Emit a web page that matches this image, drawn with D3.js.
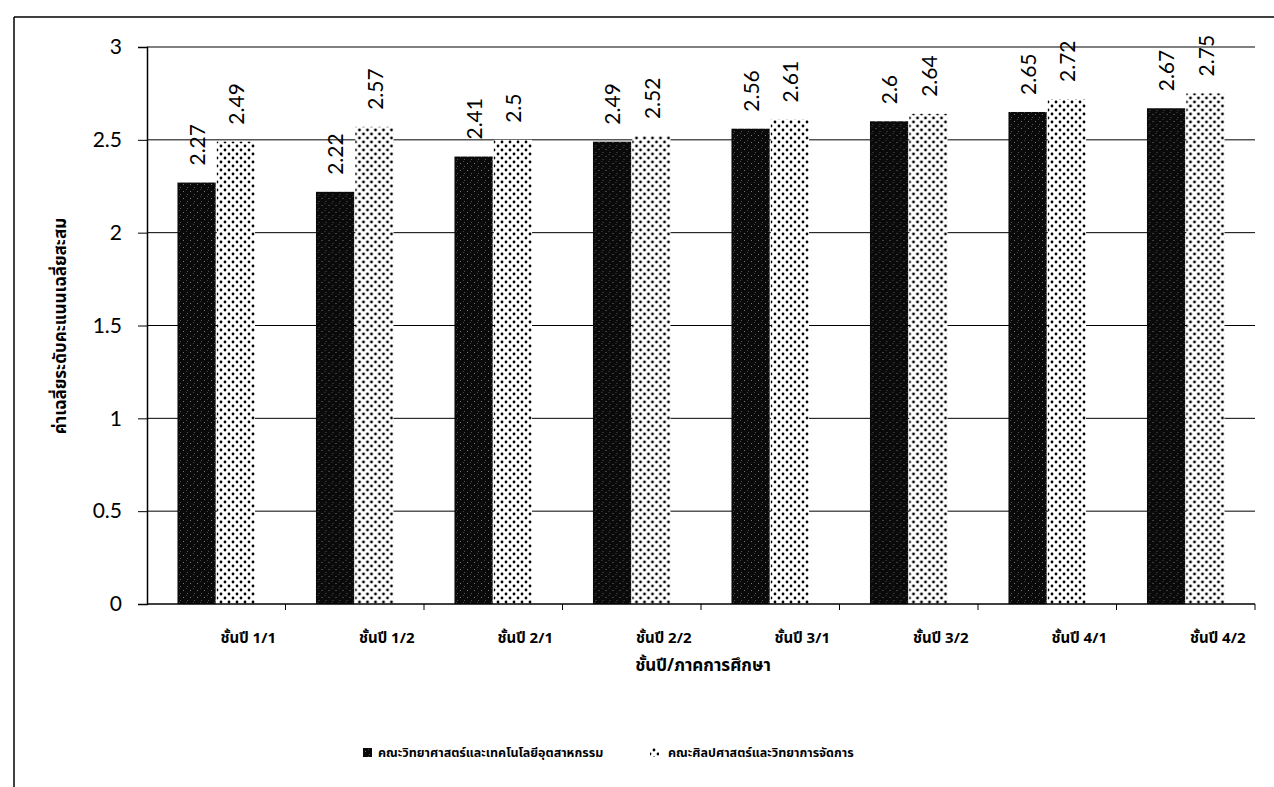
<!DOCTYPE html>
<html>
<head>
<meta charset="utf-8">
<script src="https://cdn.jsdelivr.net/npm/d3@7"></script>
<style>
  body { margin: 0; background: #fff; }
  svg { display: block; }
</style>
</head>
<body>
<script>
var w = 1274;
var h = 787;

// data
var categories = ['ชั้นปี 1/1', 'ชั้นปี 1/2', 'ชั้นปี 2/1', 'ชั้นปี 2/2', 'ชั้นปี 3/1', 'ชั้นปี 3/2', 'ชั้นปี 4/1', 'ชั้นปี 4/2'];
var seriesNames = ['คณะวิทยาศาสตร์และเทคโนโลยีอุตสาหกรรม', 'คณะศิลปศาสตร์และวิทยาการจัดการ'];
var sciValues = [2.27, 2.22, 2.41, 2.49, 2.56, 2.6, 2.65, 2.67];
var artsValues = [2.49, 2.57, 2.5, 2.52, 2.61, 2.64, 2.72, 2.75];
var yTicks = [0, 0.5, 1, 1.5, 2, 2.5, 3];
var yTitle = 'ค่าเฉลี่ยระดับคะแนนเฉลี่ยสะสม';
var xTitle = 'ชั้นปี/ภาคการศึกษา';

var thaiFont = '"Noto Sans Thai", Tahoma, "DejaVu Sans", sans-serif';
var numFont = 'Lato, "Open Sans", sans-serif';

var svg = d3.select('body')
           .append('svg')
           .attr('width', w)
           .attr('height', h);

// fills: grainy black and dotted white
var defs = svg.append('defs');
var dark = defs.append('pattern')
    .attr('id', 'dark')
    .attr('patternUnits', 'userSpaceOnUse')
    .attr('width', 7).attr('height', 7);
dark.append('rect').attr('width', 7).attr('height', 7).attr('fill', '#0a0a0a');
dark.append('rect').attr('x', 1).attr('y', 2).attr('width', 1).attr('height', 1).attr('fill', '#777');
dark.append('rect').attr('x', 5).attr('y', 5).attr('width', 1).attr('height', 1).attr('fill', '#555');
dark.append('rect').attr('x', 4).attr('y', 0).attr('width', 1).attr('height', 1).attr('fill', '#444');

var dots = defs.append('pattern')
    .attr('id', 'dots')
    .attr('patternUnits', 'userSpaceOnUse')
    .attr('width', 8).attr('height', 8);
dots.append('rect').attr('width', 8).attr('height', 8).attr('fill', '#fff');
dots.append('circle').attr('cx', 2).attr('cy', 2).attr('r', 1.4).attr('fill', '#000');
dots.append('circle').attr('cx', 6).attr('cy', 6).attr('r', 1.4).attr('fill', '#000');

// frame (left and top edge of the scanned box)
svg.append('line').attr('x1', 14).attr('y1', 17).attr('x2', 14).attr('y2', h)
   .attr('stroke', '#000').attr('stroke-width', 1.5);
svg.append('line').attr('x1', 14).attr('y1', 17).attr('x2', w).attr('y2', 17)
   .attr('stroke', '#000').attr('stroke-width', 1.5);

var x = d3.scaleBand()
    .domain(categories)
    .range([147, 1255]);

var x1 = d3.scaleBand()
    .domain(seriesNames)
    .range([x.bandwidth() * 0.22, x.bandwidth() * 0.78])
    .paddingInner(0.03);

var y = d3.scaleLinear()
    .domain([0, 3])
    .range([604, 47]);

// gridlines
svg.append('g')
   .selectAll('line')
   .data(yTicks.slice(1))
   .enter()
   .append('line')
   .attr('x1', x.range()[0])
   .attr('x2', x.range()[1])
   .attr('y1', function(d) { return y(d); })
   .attr('y2', function(d) { return y(d); })
   .attr('stroke', '#000')
   .attr('stroke-width', 1);

// y axis
var yAxis = svg.append('g')
    .attr('transform', 'translate(147,0)')
    .call(d3.axisLeft(y).tickValues(yTicks).tickFormat(function(d) { return d; }).tickSize(9).tickPadding(16));
yAxis.selectAll('text')
     .attr('font-family', numFont)
     .attr('font-size', 21)
     .attr('fill', '#000');
yAxis.select('.domain').attr('stroke', '#000').attr('stroke-width', 1.5);
yAxis.selectAll('.tick line').attr('stroke', '#000');

// bars
var rows = categories.map(function(c, i) {
  return { cat: c, values: [
    { name: seriesNames[0], v: sciValues[i], fill: 'url(#dark)' },
    { name: seriesNames[1], v: artsValues[i], fill: 'url(#dots)' }
  ] };
});

var groups = svg.append('g')
    .selectAll('g')
    .data(rows)
    .enter()
    .append('g')
    .attr('transform', function(d) { return 'translate(' + x(d.cat) + ',0)'; });

groups.selectAll('rect')
      .data(function(d) { return d.values; })
      .enter()
      .append('rect')
      .attr('x', function(d) { return x1(d.name); })
      .attr('width', x1.bandwidth())
      .attr('y', function(d) { return y(d.v); })
      .attr('height', function(d) { return y(0) - y(d.v); })
      .attr('fill', function(d) { return d.fill; });

// rotated value labels
groups.selectAll('text')
      .data(function(d) { return d.values; })
      .enter()
      .append('text')
      .attr('transform', function(d) {
        return 'translate(' + (x1(d.name) + x1.bandwidth() / 2 + 1) + ',' + (y(d.v) - 17) + ') rotate(-90)';
      })
      .attr('dy', '0.35em')
      .attr('text-anchor', 'start')
      .attr('font-family', numFont)
      .attr('font-size', 21)
      .text(function(d) { return d.v; });

// x axis line with ticks at category boundaries
svg.append('line')
   .attr('x1', x.range()[0]).attr('x2', x.range()[1])
   .attr('y1', y(0)).attr('y2', y(0))
   .attr('stroke', '#000').attr('stroke-width', 1.5);
svg.append('g')
   .selectAll('line')
   .data(categories.slice(1).map(function(c) { return x(c); }).concat([x.range()[1]]))
   .enter()
   .append('line')
   .attr('x1', function(d) { return d; })
   .attr('x2', function(d) { return d; })
   .attr('y1', y(0))
   .attr('y2', y(0) + 6)
   .attr('stroke', '#000');

// category labels (sit a bit right of the bars, as in the scan)
svg.append('g')
   .selectAll('text')
   .data(categories)
   .enter()
   .append('text')
   .attr('x', function(d) { return x(d) + x.bandwidth() / 2 + 32; })
   .attr('y', 643)
   .attr('text-anchor', 'middle')
   .attr('font-family', thaiFont)
   .attr('font-size', 15)
   .attr('font-weight', 'bold')
   .text(function(d) { return d; });

// axis titles
svg.append('text')
   .attr('x', 703)
   .attr('y', 671)
   .attr('text-anchor', 'middle')
   .attr('font-family', thaiFont)
   .attr('font-size', 17)
   .attr('font-weight', 'bold')
   .text(xTitle);

svg.append('text')
   .attr('transform', 'translate(66,326) rotate(-90)')
   .attr('text-anchor', 'middle')
   .attr('font-family', thaiFont)
   .attr('font-size', 17)
   .attr('font-weight', 'bold')
   .text(yTitle);

// legend
var legend = svg.append('g');
legend.append('rect')
      .attr('x', 363).attr('y', 748).attr('width', 9).attr('height', 9)
      .attr('fill', 'url(#dark)');
legend.append('text')
      .attr('x', 378).attr('y', 757)
      .attr('font-family', thaiFont)
      .attr('font-size', 12.5)
      .attr('font-weight', 'bold')
      .text(seriesNames[0]);
legend.append('rect')
      .attr('x', 650).attr('y', 748).attr('width', 9).attr('height', 9)
      .attr('fill', 'url(#dots)');
legend.append('text')
      .attr('x', 668).attr('y', 757)
      .attr('font-family', thaiFont)
      .attr('font-size', 12.5)
      .attr('font-weight', 'bold')
      .text(seriesNames[1]);
</script>
</body>
</html>
